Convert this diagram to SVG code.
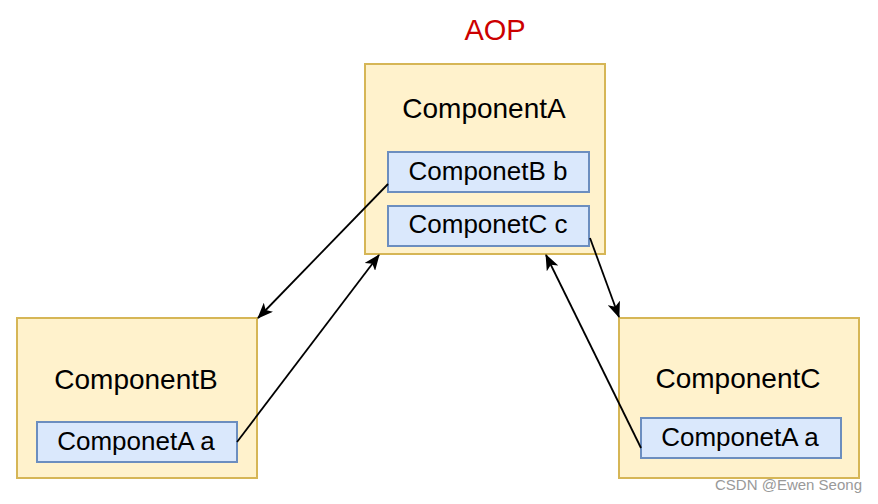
<svg xmlns="http://www.w3.org/2000/svg" width="878" height="504" viewBox="0 0 878 504">
<style>
.outer{fill:#fff2cc;stroke:#d6b656;stroke-width:2}
.inner{fill:#dae8fc;stroke:#6c8ebf;stroke-width:2}
.t{font-family:"Liberation Sans",Arial,sans-serif;font-size:26px;fill:#000;text-anchor:middle}
.big{font-size:28px}
.e{fill:none;stroke:#000;stroke-width:1.8}
</style>
<defs>
<marker id="ah" viewBox="0 0 16 13" refX="15" refY="6.5" markerWidth="16" markerHeight="13" markerUnits="userSpaceOnUse" orient="auto">
<path d="M0,0 L16,6.5 L0,13 L4,6.5 Z" fill="#000"/>
</marker>
</defs>
<rect width="878" height="504" fill="#fff"/>
<text x="495" y="40" font-family="Liberation Sans,Arial,sans-serif" font-size="29" fill="#cc0000" text-anchor="middle">AOP</text>
<g id="componentA">
<rect class="outer" x="365" y="64" width="240" height="190"/>
<text class="t big" x="484" y="118">ComponentA</text>
<rect class="inner" x="388" y="152" width="201" height="40"/>
<text class="t" x="488" y="180">ComponetB b</text>
<rect class="inner" x="388" y="206" width="201" height="40"/>
<text class="t" x="488" y="233">ComponetC c</text>
</g>
<g id="componentB">
<rect class="outer" x="17" y="318" width="240" height="160"/>
<text class="t big" x="136" y="389">ComponentB</text>
<rect class="inner" x="37" y="422" width="200" height="40"/>
<text class="t" x="136" y="450">ComponetA a</text>
</g>
<g id="componentC">
<rect class="outer" x="619" y="318" width="240" height="160"/>
<text class="t big" x="738" y="388">ComponentC</text>
<rect class="inner" x="641" y="418" width="200" height="40"/>
<text class="t" x="740" y="446">ComponetA a</text>
</g>
<g id="connectors">
<line class="e" x1="388" y1="184" x2="258" y2="318" marker-end="url(#ah)"/>
<line class="e" x1="237" y1="442" x2="379" y2="255" marker-end="url(#ah)"/>
<line class="e" x1="590" y1="238" x2="619" y2="317" marker-end="url(#ah)"/>
<line class="e" x1="641" y1="448" x2="546" y2="255" marker-end="url(#ah)"/>
</g>
<text x="862" y="490" font-family="Liberation Sans,Arial,sans-serif" font-size="15" fill="#999" text-anchor="end">CSDN @Ewen Seong</text>
</svg>
